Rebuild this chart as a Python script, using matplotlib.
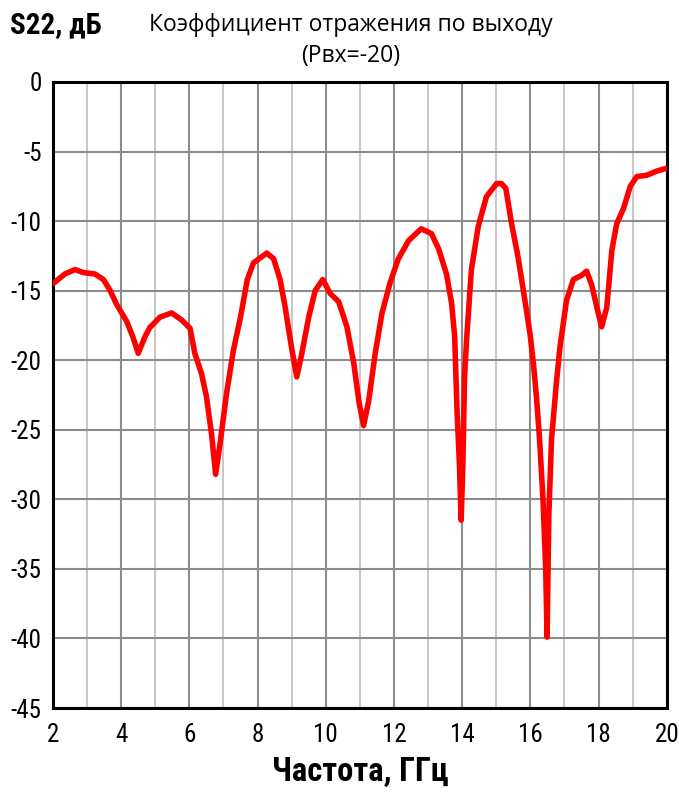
import matplotlib
matplotlib.use("Agg")
from matplotlib import pyplot as plt
from matplotlib import font_manager
import numpy as np

# S22 readings
freq = [2.0, 2.35, 2.65, 2.89, 3.23, 3.48, 3.67, 3.87, 4.16, 4.34, 4.5, 4.7,
        4.84, 5.14, 5.48, 5.77, 6.02, 6.16, 6.36, 6.5, 6.65, 6.77, 6.9, 7.09,
        7.29, 7.5, 7.7, 7.88, 8.27, 8.47, 8.66, 8.81, 8.99, 9.15, 9.3, 9.5,
        9.69, 9.91, 10.13, 10.38, 10.62, 10.82, 10.98, 11.11, 11.26, 11.45,
        11.65, 11.89, 12.13, 12.43, 12.8, 13.1, 13.31, 13.54, 13.69, 13.78,
        13.85, 13.92, 13.97, 14.02, 14.07, 14.13, 14.27, 14.47, 14.71, 15.01,
        15.15, 15.28, 15.45, 15.64, 15.84, 15.99, 16.1, 16.18, 16.27, 16.37,
        16.45, 16.49, 16.54, 16.62, 16.76, 16.87, 17.06, 17.26, 17.5, 17.65,
        17.8, 17.95, 18.09, 18.24, 18.39, 18.53, 18.73, 18.93, 19.12, 19.42,
        19.71, 20.0]
s22 = [-14.5, -13.8, -13.48, -13.7, -13.8, -14.2, -14.96, -16.0, -17.2, -18.3,
       -19.5, -18.3, -17.65, -16.9, -16.6, -17.1, -17.7, -19.5, -21.0, -22.6,
       -25.3, -28.2, -26.0, -22.4, -19.3, -16.9, -14.2, -13.0, -12.3, -12.7,
       -14.2, -16.2, -19.0, -21.2, -19.5, -16.9, -15.0, -14.2, -15.2, -15.8,
       -17.6, -20.2, -23.1, -24.7, -22.9, -19.5, -16.6, -14.4, -12.7, -11.4,
       -10.55, -10.9, -12.0, -13.8, -15.9, -18.3, -23.7, -27.5, -31.5, -27.5,
       -21.2, -18.5, -13.5, -10.4, -8.25, -7.3, -7.3, -7.65, -10.2, -12.6,
       -15.7, -18.1, -20.5, -22.7, -25.7, -30.0, -35.0, -39.9, -31.2, -25.7,
       -21.7, -19.0, -15.7, -14.2, -13.9, -13.6, -14.6, -16.2, -17.6, -16.2,
       -12.1, -10.2, -9.1, -7.5, -6.8, -6.7, -6.4, -6.2]

x_ticks = [2, 4, 6, 8, 10, 12, 14, 16, 18, 20]
y_ticks = [0, -5, -10, -15, -20, -25, -30, -35, -40, -45]

# pick a narrow face if the box has one
names = {f.name for f in font_manager.fontManager.ttflist}
if 'Liberation Sans Narrow' in names:
    narrow = ['Liberation Sans Narrow', 'DejaVu Sans']
elif 'Roboto Condensed' in names:
    narrow = ['Roboto Condensed', 'DejaVu Sans']
else:
    narrow = ['Liberation Sans', 'DejaVu Sans']
plain = ['Open Sans', 'DejaVu Sans']

plt.rcParams['axes.unicode_minus'] = False

fig = plt.figure(figsize=(6.79, 7.92), dpi=100)
ax = fig.add_axes([0.078, 0.106, 0.904, 0.7905])

ax.plot(freq, s22, color='#ff0000', linewidth=4.0, solid_joinstyle='round',
        solid_capstyle='round', zorder=3)

ax.set_xlim(2, 20)
ax.set_ylim(-45, 0)
ax.set_xticks(x_ticks)
ax.set_xticks(np.arange(3, 20, 2), minor=True)
ax.set_yticks(y_ticks)
ax.grid(which='major', color='#8c8c8c', linewidth=1.5)
ax.grid(which='minor', axis='x', color='#c8c8c8', linewidth=1.5)
ax.tick_params(which='both', length=0)
ax.tick_params(axis='x', pad=11)
ax.tick_params(axis='y', pad=8)
for lbl in ax.get_xticklabels() + ax.get_yticklabels():
    lbl.set_fontfamily(narrow)
    lbl.set_fontsize(18)
for sp in ax.spines.values():
    sp.set_linewidth(2.2)
    sp.set_color('black')

ax.set_xlabel('Частота, ГГц', family=narrow, fontsize=23.5,
              fontweight='bold', labelpad=6)

fig.text(0.014, 0.968, 'S22, дБ', family=narrow, fontsize=21,
         fontweight='bold', va='center', ha='left')
fig.text(0.516, 0.969, 'Коэффициент отражения по выходу', family=plain,
         fontsize=16.5, va='center', ha='center')
fig.text(0.516, 0.929, '(Рвх=-20)', family=plain, fontsize=16.5,
         va='center', ha='center')

fig.savefig('out.png', dpi=100)
plt.close(fig)
